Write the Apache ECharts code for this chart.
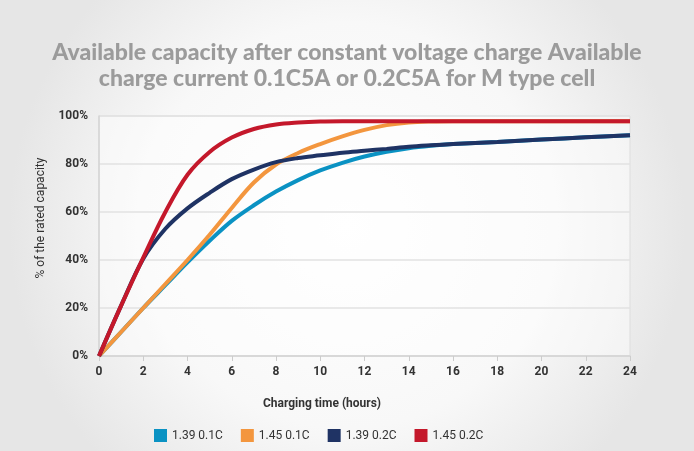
<!DOCTYPE html>
<html>
<head>
<meta charset="utf-8">
<script src="https://cdn.jsdelivr.net/npm/echarts@6/dist/echarts.min.js"></script>
<style>
html,body{margin:0;padding:0;}
#c{width:694px;height:451px;}
</style>
</head>
<body>
<div id="c"></div>
<script>
var titleText = 'Available capacity after constant voltage charge Available\ncharge current 0.1C5A or 0.2C5A for M type cell';
var xName = 'Charging time (hours)';
var yName = '% of the rated capacity';
var seriesNames = ['1.39 0.1C', '1.45 0.1C', '1.39 0.2C', '1.45 0.2C'];
var seriesColors = ['#0a92c3', '#f3963e', '#1f3364', '#c4182b'];

var hours = [0, 1, 2, 3, 4, 5, 6, 7, 8, 9, 10, 11, 12, 13, 14, 15, 16, 18, 20, 22, 24];
var v139_01C = [0, 10, 20, 29.5, 39, 48, 56.3, 62.8, 68.5, 73.3, 77.3, 80.5, 83.1, 85.1, 86.6, 87.6, 88.3, 89.2, 90.2, 91.1, 92];
var v145_01C = [0, 10, 20, 30, 40, 50.5, 61.7, 72.3, 79.8, 84.6, 88.3, 91.5, 94.2, 96.2, 97.3, 97.7, 97.8, 97.8, 97.8, 97.8, 97.8];
var v139_02C = [0, 21, 40.5, 53, 61.5, 68, 73.7, 77.7, 80.8, 82.5, 83.6, 84.7, 85.5, 86.3, 87.2, 87.8, 88.3, 89.2, 90.2, 91.1, 92];
var v145_02C = [0, 21, 41, 60, 75.5, 85, 91, 94.6, 96.5, 97.3, 97.7, 97.8, 97.8, 97.8, 97.8, 97.8, 97.8, 97.8, 97.8, 97.8, 97.8];
var allValues = [v139_01C, v145_01C, v139_02C, v145_02C];

var chart = echarts.init(document.getElementById('c'), null, {renderer: 'canvas'});

var series = seriesNames.map(function (n, i) {
  return {
    name: n,
    type: 'line',
    data: hours.map(function (h, j) { return [h, allValues[i][j]]; }),
    smooth: 0.35,
    showSymbol: false,
    symbol: 'none',
    lineStyle: {color: seriesColors[i], width: 4},
    itemStyle: {color: seriesColors[i]}
  };
});

chart.setOption({
  animation: false,
  backgroundColor: {
    type: 'radial', x: 0.5, y: 0.5, r: 0.75,
    colorStops: [{offset: 0, color: '#ffffff'}, {offset: 0.6, color: '#f8f8f8'}, {offset: 1, color: '#e6e6e6'}]
  },
  title: {
    text: titleText,
    left: 'center',
    top: 35,
    textStyle: {fontFamily: 'Lato', fontWeight: 900, fontSize: 23, color: '#9b9b9b', lineHeight: 26}
  },
  legend: {
    data: seriesNames,
    left: 154,
    top: 429,
    padding: 0,
    icon: 'rect',
    itemWidth: 13,
    itemHeight: 13,
    itemGap: 18,
    itemTextGap: 6,
    textStyle: {fontFamily: 'Roboto', fontSize: 12, color: '#333'}
  },
  grid: {
    left: 99, right: 64, top: 116, bottom: 95,
    show: true,
    borderColor: '#dddddd',
    borderWidth: 1,
    backgroundColor: 'rgba(255,255,255,0.45)'
  },
  xAxis: {
    type: 'value',
    min: 0, max: 24, interval: 2,
    name: xName,
    nameLocation: 'middle',
    nameGap: 42,
    nameTextStyle: {fontFamily: 'Roboto', fontSize: 12, fontWeight: 'bold', color: '#333', padding: [0, 85, 0, 0]},
    axisLine: {lineStyle: {color: '#d4d4d4', width: 1.5}},
    axisTick: {show: true, length: 5, lineStyle: {color: '#cccccc'}},
    splitLine: {show: false},
    axisLabel: {fontFamily: 'Roboto', fontSize: 12, fontWeight: 'bold', color: '#333', margin: 10}
  },
  yAxis: {
    type: 'value',
    min: 0, max: 100, interval: 20,
    name: yName,
    nameLocation: 'middle',
    nameGap: 52,
    nameTextStyle: {fontFamily: 'Roboto', fontSize: 12, color: '#333', padding: [0, 0, 0, 36]},
    axisLine: {show: true, lineStyle: {color: '#d4d4d4', width: 1.5}},
    axisTick: {show: false},
    splitLine: {lineStyle: {color: '#e2e2e2', width: 1.5}},
    axisLabel: {fontFamily: 'Roboto', fontSize: 12, fontWeight: 'bold', color: '#333', margin: 11, formatter: '{value}%'}
  },
  series: series
});
</script>
</body>
</html>
